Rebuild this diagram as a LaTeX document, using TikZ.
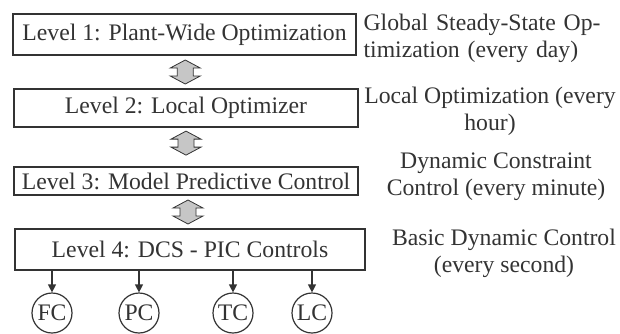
\documentclass[tikz,border=0pt]{standalone}
\usepackage{fontspec}
\setmainfont{Liberation Serif}
\usetikzlibrary{positioning, calc, arrows.meta}

\begin{document}
\begin{tikzpicture}[x=1pt, y=-1pt, line width=1.2pt, color=black!80,
    every node/.style={font=\fontsize{23.7}{27}\selectfont},
    level/.style={rectangle, draw, inner sep=0pt},
    ctrl/.style={circle, draw, minimum size=40pt, inner sep=0pt},
    note/.style={align=center, inner sep=0pt},
    tip/.style={-{Triangle[length=8pt,width=8pt]}},
    updown/.pic={\draw[fill=gray!45, line width=0.8pt] (0,-12) -- (15,-4) -- (8,-4) -- (8,4) -- (15,4) -- (0,12) -- (-15,4) -- (-8,4) -- (-8,-4) -- (-15,-4) -- cycle;}]
    \useasboundingbox (0,0) rectangle (620,333);
    \node[level, minimum width=343pt, minimum height=41pt] (l1) at (184.5,34.5) {Level 1: Plant-Wide Optimization};
    \node[level, minimum width=344pt, minimum height=38pt] (l2) at (186,108) {Level 2: Local Optimizer};
    \node[level, minimum width=344pt, minimum height=28pt] (l3) at (186,181) {Level 3: Model Predictive Control};
    \node[level, minimum width=350pt, minimum height=41pt] (l4) at (190,249.5) {Level 4: DCS - PIC Controls};
    \pic at ($(l1.south)!.5!(l2.north)$) {updown};
    \pic at ($(l2.south)!.4!(l3.north)$) {updown};
    \pic at ($(l3.south)!.5!(l4.north)$) {updown};
    \foreach \n/\x in {FC/52, PC/139, TC/233, LC/312} {
        \node[ctrl] (\n) at (\x,313) {\n};
        \draw[tip] (l4.south -| \n) -- (\n);
    }
    \node[note, anchor=west, text width=240pt, align=left] (n1) at (363,38.5) {\makebox[\linewidth][s]{Global Steady-State Op-}\\timization (every day)};
    \node[note] (n2) at (490,111.5) {Local Optimization (every\\hour)};
    \node[note] (n3) at (496,176.5) {Dynamic Constraint\\Control (every minute)};
    \node[note] (n4) at (504,253.5) {Basic Dynamic Control\\(every second)};
\end{tikzpicture}
\end{document}
